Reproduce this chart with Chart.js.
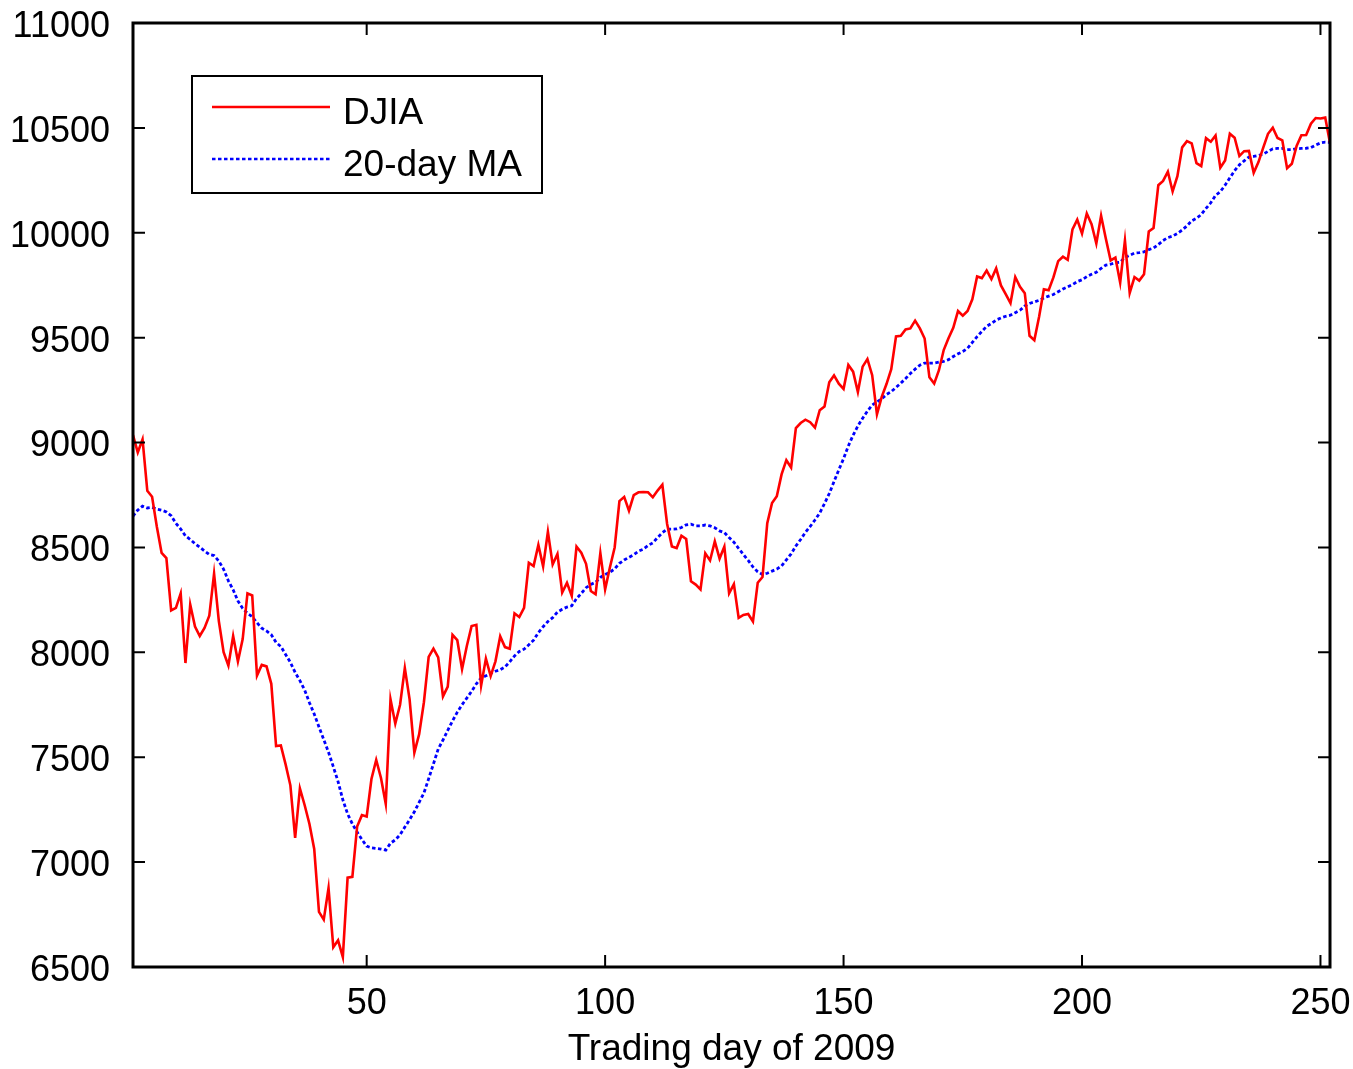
<!DOCTYPE html>
<html>
<head>
<meta charset="utf-8">
<title>DJIA 2009</title>
<script src="https://cdn.jsdelivr.net/npm/chart.js@4.4.1/dist/chart.umd.min.js"></script>
<style>
    html, body { margin: 0; padding: 0; background: #fff; }
    #wrap { width: 1353px; height: 1069px; }
</style>
</head>
<body>
<div id="wrap"><canvas id="djiaChart" width="1353" height="1069"></canvas></div>
<script>
// Data: DJIA daily close, trading days 1..252 of 2009
const djiaClose = [
    9035, 8953, 9015, 8770, 8742, 8599, 8474, 8449, 8200, 8212,
    8281, 7949, 8228, 8123, 8078, 8116, 8175, 8375, 8149, 8001,
    7937, 8078, 7957, 8063, 8281, 8271, 7889, 7940, 7933, 7850,
    7553, 7556, 7466, 7366, 7115, 7351, 7271, 7182, 7063, 6763,
    6726, 6876, 6594, 6627, 6547, 6926, 6930, 7170, 7224, 7217,
    7396, 7487, 7401, 7278, 7776, 7660, 7750, 7925, 7776, 7522,
    7609, 7762, 7978, 8018, 7976, 7790, 7837, 8083, 8058, 7920,
    8030, 8125, 8131, 7842, 7970, 7887, 7957, 8076, 8025, 8017,
    8186, 8168, 8212, 8427, 8411, 8512, 8410, 8575, 8419, 8469,
    8285, 8331, 8269, 8504, 8475, 8422, 8292, 8277, 8473, 8300,
    8404, 8500, 8721, 8741, 8675, 8750, 8763, 8764, 8763, 8739,
    8771, 8799, 8612, 8505, 8497, 8556, 8540, 8339, 8323, 8300,
    8472, 8438, 8529, 8447, 8504, 8281, 8325, 8164, 8178, 8183,
    8147, 8332, 8359, 8616, 8712, 8744, 8848, 8916, 8881, 9069,
    9093, 9109, 9097, 9071, 9154, 9172, 9287, 9320, 9281, 9256,
    9370, 9338, 9241, 9362, 9398, 9321, 9135, 9218, 9279, 9350,
    9506, 9509, 9539, 9544, 9581, 9544, 9496, 9311, 9281, 9345,
    9441, 9497, 9547, 9627, 9605, 9627, 9683, 9792, 9784, 9820,
    9779, 9830, 9749, 9707, 9665, 9789, 9742, 9712, 9509, 9488,
    9600, 9731, 9726, 9787, 9865, 9886, 9871, 10016, 10063, 9996,
    10092, 10041, 9949, 10081, 9972, 9868, 9882, 9763, 9963, 9713,
    9789, 9772, 9802, 10006, 10023, 10227, 10247, 10291, 10197, 10270,
    10407, 10437, 10426, 10332, 10318, 10451, 10434, 10464, 10310, 10345,
    10472, 10453, 10366, 10389, 10390, 10286, 10337, 10406, 10472, 10501,
    10452, 10441, 10308, 10329, 10414, 10465, 10466, 10520, 10547, 10545,
    10549, 10428
];

// 20-day moving average, same days
const movingAvg20 = [
    8649, 8678, 8697, 8688, 8691, 8683, 8678, 8669, 8651, 8615,
    8588, 8555, 8538, 8518, 8501, 8483, 8466, 8461, 8435, 8396,
    8341, 8298, 8245, 8209, 8186, 8170, 8141, 8115, 8102, 8084,
    8047, 8028, 7990, 7952, 7904, 7865, 7820, 7760, 7706, 7644,
    7584, 7524, 7455, 7384, 7297, 7230, 7182, 7143, 7108, 7076,
    7068, 7065, 7062, 7057, 7090, 7106, 7130, 7167, 7202, 7240,
    7285, 7329, 7398, 7468, 7539, 7582, 7628, 7673, 7715, 7750,
    7782, 7814, 7850, 7878, 7888, 7899, 7910, 7917, 7930, 7955,
    7983, 8004, 8015, 8036, 8058, 8094, 8122, 8147, 8165, 8192,
    8205, 8216, 8222, 8256, 8281, 8308, 8324, 8334, 8357, 8371,
    8382, 8398, 8424, 8440, 8453, 8465, 8482, 8492, 8509, 8522,
    8547, 8570, 8587, 8587, 8588, 8595, 8608, 8611, 8603, 8603,
    8607, 8603, 8594, 8579, 8571, 8547, 8525, 8495, 8466, 8438,
    8407, 8384, 8371, 8377, 8387, 8397, 8412, 8441, 8469, 8507,
    8538, 8572, 8600, 8631, 8664, 8709, 8757, 8814, 8870, 8923,
    8984, 9035, 9079, 9116, 9150, 9179, 9194, 9209, 9229, 9243,
    9263, 9283, 9305, 9329, 9350, 9369, 9379, 9379, 9379, 9383,
    9387, 9395, 9410, 9423, 9434, 9449, 9477, 9505, 9530, 9554,
    9568, 9584, 9594, 9602, 9607, 9619, 9631, 9651, 9663, 9670,
    9678, 9689, 9698, 9706, 9719, 9732, 9742, 9753, 9767, 9776,
    9791, 9802, 9812, 9830, 9846, 9850, 9857, 9859, 9882, 9893,
    9903, 9905, 9909, 9920, 9927, 9944, 9963, 9977, 9984, 9997,
    10013, 10033, 10057, 10069, 10087, 10116, 10143, 10178, 10196, 10227,
    10262, 10296, 10324, 10343, 10361, 10364, 10369, 10375, 10388, 10400,
    10402, 10402, 10396, 10396, 10401, 10402, 10403, 10406, 10418, 10428,
    10432, 10431
];

const seriesLabels = ['DJIA', '20-day MA'];
const xTicks = [50, 100, 150, 200, 250];
const yTicks = [6500, 7000, 7500, 8000, 8500, 9000, 9500, 10000, 10500, 11000];
const xTitle = 'Trading day of 2009';

const FONT = "'Liberation Sans', Arial, sans-serif";

// Draws the MATLAB style box, inward ticks and the legend
const matlabFrame = {
    id: 'matlabFrame',
    afterDatasetsDraw(chart) {
        const { ctx, chartArea: a, scales } = chart;
        const tick = 12;
        ctx.save();

        // inward tick marks on all four sides
        ctx.strokeStyle = '#000';
        ctx.lineWidth = 2;
        ctx.beginPath();
        xTicks.forEach(v => {
            const px = scales.x.getPixelForValue(v);
            ctx.moveTo(px, a.bottom); ctx.lineTo(px, a.bottom - tick);
            ctx.moveTo(px, a.top); ctx.lineTo(px, a.top + tick);
        });
        yTicks.forEach(v => {
            const py = scales.y.getPixelForValue(v);
            ctx.moveTo(a.left, py); ctx.lineTo(a.left + tick, py);
            ctx.moveTo(a.right, py); ctx.lineTo(a.right - tick, py);
        });
        ctx.stroke();

        // box
        ctx.lineWidth = 3;
        ctx.strokeRect(a.left, a.top, a.right - a.left, a.bottom - a.top);

        // legend
        const lx = a.left + 59, ly = a.top + 53, lw = 350, lh = 117;
        ctx.fillStyle = '#fff';
        ctx.fillRect(lx, ly, lw, lh);
        ctx.lineWidth = 2;
        ctx.strokeStyle = '#000';
        ctx.strokeRect(lx, ly, lw, lh);

        ctx.font = '37px ' + FONT;
        ctx.textBaseline = 'alphabetic';
        ctx.textAlign = 'left';
        chart.data.datasets.forEach((ds, i) => {
            const yy = ly + 31 + i * 52;
            ctx.strokeStyle = ds.borderColor;
            ctx.lineWidth = 2.4;
            ctx.setLineDash(ds.borderDash || []);
            ctx.beginPath();
            ctx.moveTo(lx + 20, yy);
            ctx.lineTo(lx + 138, yy);
            ctx.stroke();
            ctx.setLineDash([]);
            ctx.fillStyle = '#000';
            ctx.fillText(ds.label, lx + 151, yy + 17);
        });

        ctx.restore();
    }
};

const toPoints = (vals) => vals.map((v, i) => ({ x: i + 1, y: v }));

// keep the plot box fixed: no extra room for overflowing tick labels
const noLabelPadding = (s) => {
    s.paddingTop = 0;
    s.paddingBottom = 0;
    s.paddingLeft = 0;
    s.paddingRight = 0;
};

const chart = new Chart(document.getElementById('djiaChart').getContext('2d'), {
    type: 'line',
    data: {
        datasets: [
            {
                label: seriesLabels[0],
                data: toPoints(djiaClose),
                borderColor: '#ff0000',
                borderWidth: 2.6,
                pointRadius: 0,
                tension: 0,
                fill: false
            },
            {
                label: seriesLabels[1],
                data: toPoints(movingAvg20),
                borderColor: '#0000ff',
                borderWidth: 2.8,
                borderDash: [3.5, 2.5],
                pointRadius: 0,
                tension: 0,
                fill: false
            }
        ]
    },
    options: {
        responsive: false,
        animation: false,
        devicePixelRatio: 1,
        layout: { padding: { top: 23, right: 23, left: 0, bottom: 0 } },
        plugins: {
            legend: { display: false },
            tooltip: { enabled: false }
        },
        scales: {
            x: {
                type: 'linear',
                min: 1,
                max: 252,
                afterBuildTicks: (s) => { s.ticks = xTicks.map(v => ({ value: v })); },
                afterFit: (s) => { s.height = 102; noLabelPadding(s); },
                grid: { display: false, drawTicks: false },
                border: { display: false },
                ticks: {
                    color: '#000',
                    padding: 15,
                    maxRotation: 0,
                    callback: (v) => String(v),
                    font: { family: FONT, size: 36 }
                },
                title: {
                    display: true,
                    text: xTitle,
                    color: '#000',
                    font: { family: FONT, size: 37, lineHeight: 1.2 },
                    padding: { top: 0, bottom: -3 }
                }
            },
            y: {
                min: 6500,
                max: 11000,
                afterBuildTicks: (s) => { s.ticks = yTicks.map(v => ({ value: v })); },
                afterFit: (s) => { s.width = 133; noLabelPadding(s); },
                grid: { display: false, drawTicks: false },
                border: { display: false },
                ticks: {
                    color: '#000',
                    padding: 23,
                    labelOffset: 4,
                    callback: (v) => String(v),
                    font: { family: FONT, size: 36 }
                }
            }
        }
    },
    plugins: [matlabFrame]
});
</script>
</body>
</html>
